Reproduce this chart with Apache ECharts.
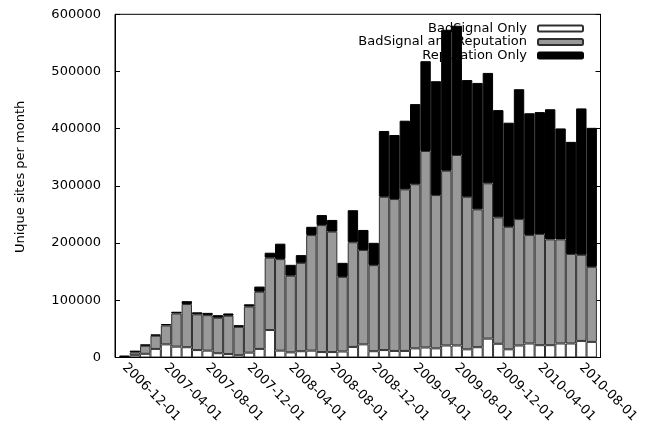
<!DOCTYPE html>
<html>
<head>
<meta charset="utf-8">
<script src="https://cdn.jsdelivr.net/npm/echarts@6/dist/echarts.min.js"></script>
<style>
  html, body { margin: 0; padding: 0; background: #fff; }
  #chart { width: 654px; height: 431px; }
</style>
</head>
<body>
<div id="chart"></div>
<script>
// months, one bar each
const months = [
  '2006-12-01', '2007-01-01', '2007-02-01', '2007-03-01', '2007-04-01', '2007-05-01',
  '2007-06-01', '2007-07-01', '2007-08-01', '2007-09-01', '2007-10-01', '2007-11-01',
  '2007-12-01', '2008-01-01', '2008-02-01', '2008-03-01', '2008-04-01', '2008-05-01',
  '2008-06-01', '2008-07-01', '2008-08-01', '2008-09-01', '2008-10-01', '2008-11-01',
  '2008-12-01', '2009-01-01', '2009-02-01', '2009-03-01', '2009-04-01', '2009-05-01',
  '2009-06-01', '2009-07-01', '2009-08-01', '2009-09-01', '2009-10-01', '2009-11-01',
  '2009-12-01', '2010-01-01', '2010-02-01', '2010-03-01', '2010-04-01', '2010-05-01',
  '2010-06-01', '2010-07-01', '2010-08-01', '2010-09-01'
];

// BadSignal Only
const badSignalOnly = [
  1000, 4000, 6500, 15000, 23000, 19000, 18000, 13000, 12000, 7500, 6000, 4000,
  8500, 15000, 48000, 12000, 9000, 11000, 12000, 9500, 9500, 10500, 18500, 23000,
  11000, 13000, 11500, 11500, 16000, 17500, 16000, 21000, 21000, 14300, 18000, 33000,
  24000, 14300, 21000, 24500, 21500, 21500, 24500, 24500, 29000, 27300
];

// BadSignal and Reputation
const badSignalAndRep = [
  500, 5000, 14000, 23000, 33000, 58000, 75500, 62500, 62000, 62000, 67000, 49500,
  80500, 100000, 126500, 160000, 134000, 154500, 202000, 222000, 210500, 130500, 183000, 165000,
  150500, 268000, 265500, 282500, 287000, 343500, 268000, 305500, 333000, 266700, 241000, 271500,
  221000, 214200, 221000, 189500, 194500, 185000, 182000, 156500, 150500, 131200
];

// Reputation Only
const reputationOnly = [
  1500, 3000, 2500, 2400, 2500, 3000, 5000, 3500, 4000, 4500, 4000, 3000,
  4000, 9000, 8700, 27000, 19000, 13500, 14500, 17500, 20500, 24500, 56000, 35000,
  39000, 115000, 112000, 120000, 140000, 157000, 199000, 246500, 226000, 204000, 221000, 193000,
  187500, 182000, 227000, 213000, 213000, 227500, 194000, 196000, 256000, 243000
];

const yTicks = [0, 100000, 200000, 300000, 400000, 500000, 600000];

const chart = echarts.init(document.getElementById('chart'), null, { renderer: 'canvas' });

const font = 'DejaVu Sans';
const barBorder = '#303030';

chart.setOption({
  animation: false,
  textStyle: { fontFamily: font },
  legend: {
    data: ['BadSignal Only', 'BadSignal and Reputation', 'Reputation Only'],
    orient: 'vertical',
    right: 65,
    top: 17,
    align: 'right',
    itemWidth: 45,
    itemHeight: 6,
    itemGap: 0.5,
    z: 1,
    selectedMode: false,
    textStyle: { fontFamily: font, fontSize: 13, color: '#000', lineHeight: 13, padding: [0, 6, 0, 0] }
  },
  grid: [
    // frame
    { left: 115, right: 53.5, top: 14.3, bottom: 73.5, show: true, borderColor: '#000', borderWidth: 1, z: 3 },
    // bars
    { left: 119.3, right: 57.1, top: 14.3, bottom: 73.5 }
  ],
  xAxis: [
    { gridIndex: 0, type: 'value', min: 0, max: 1, show: false },
    {
      gridIndex: 1,
      type: 'category',
      data: months,
      boundaryGap: true,
      axisLine: { show: false },
      axisTick: { show: false },
      axisLabel: {
        interval: 3,
        rotate: -45,
        margin: 8,
        color: '#000',
        fontFamily: font,
        fontSize: 13
      }
    }
  ],
  yAxis: [
    {
      gridIndex: 0,
      type: 'value',
      min: yTicks[0],
      max: yTicks[yTicks.length - 1],
      interval: 100000,
      name: 'Unique sites per month',
      nameLocation: 'middle',
      nameGap: 88,
      nameTextStyle: { color: '#000', fontFamily: font, fontSize: 13, padding: [0, 0, 0, 18] },
      axisLine: { show: true, lineStyle: { color: '#000' } },
      axisTick: { show: true, inside: true, length: 5, lineStyle: { color: '#000' } },
      axisLabel: { color: '#000', fontFamily: font, fontSize: 13, margin: 14, formatter: v => String(v) },
      splitLine: { show: false }
    },
    {
      gridIndex: 0,
      type: 'value',
      position: 'right',
      min: yTicks[0],
      max: yTicks[yTicks.length - 1],
      interval: 100000,
      axisLine: { show: true, lineStyle: { color: '#000' } },
      axisTick: { show: true, inside: true, length: 5, lineStyle: { color: '#000' } },
      axisLabel: { show: false },
      splitLine: { show: false }
    },
    {
      gridIndex: 1,
      type: 'value',
      min: yTicks[0],
      max: yTicks[yTicks.length - 1],
      show: false,
      splitLine: { show: false }
    }
  ],
  series: [
    {
      name: 'BadSignal Only',
      type: 'bar',
      stack: 'total',
      xAxisIndex: 1,
      yAxisIndex: 2,
      barCategoryGap: '0%',
      data: badSignalOnly,
      itemStyle: { color: '#ffffff', borderColor: barBorder, borderWidth: 1 },
      emphasis: { disabled: true }
    },
    {
      name: 'BadSignal and Reputation',
      type: 'bar',
      stack: 'total',
      xAxisIndex: 1,
      yAxisIndex: 2,
      barCategoryGap: '0%',
      data: badSignalAndRep,
      itemStyle: { color: '#999999', borderColor: barBorder, borderWidth: 1 },
      emphasis: { disabled: true }
    },
    {
      name: 'Reputation Only',
      type: 'bar',
      stack: 'total',
      xAxisIndex: 1,
      yAxisIndex: 2,
      barCategoryGap: '0%',
      data: reputationOnly,
      itemStyle: { color: '#000000', borderColor: '#000', borderWidth: 1 },
      emphasis: { disabled: true }
    }
  ]
});
</script>
</body>
</html>
